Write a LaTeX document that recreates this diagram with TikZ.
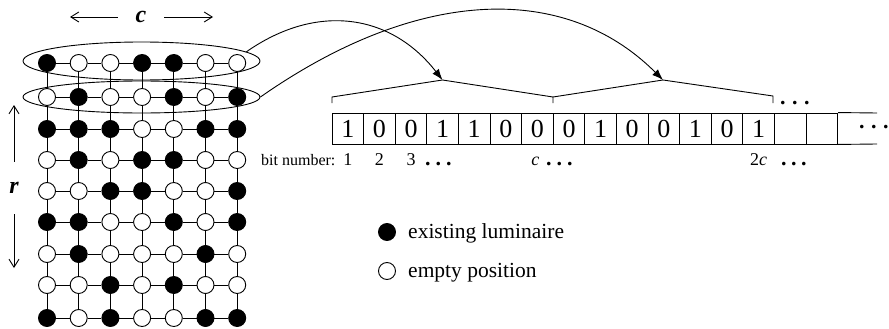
\documentclass[tikz,border=0pt]{standalone}
\usepackage{fontspec}
\setmainfont{Liberation Serif}
\usetikzlibrary{shapes.geometric,arrows.meta}
\newcommand\mydots[1]{.\kern#1.\kern#1.}
\begin{document}
\begin{tikzpicture}[x=1pt,y=-1pt,
  lw/.style={line width=0.9pt},
  cell1/.style={circle,draw,fill=black,minimum size=17pt,inner sep=0pt,line width=0.9pt},
  cell0/.style={circle,draw,fill=white,minimum size=17pt,inner sep=0pt,line width=0.9pt},
  ring/.style={ellipse,draw,inner sep=0pt,line width=0.9pt},
  bitcell/.style={draw,minimum width=31.6pt,minimum height=31pt,inner sep=0pt,line width=0.9pt,font=\fontsize{26}{26}\selectfont},
  numlab/.style={anchor=base,inner sep=0pt,font=\fontsize{18}{18}\selectfont},
  dotlab/.style={anchor=base west,inner sep=0pt,font=\fontsize{22}{22}\selectfont\bfseries},
  legtext/.style={anchor=base west,inner sep=0pt,font=\fontsize{21.5}{21.5}\selectfont},
  biglab/.style={font=\fontsize{24}{24}\selectfont\bfseries\itshape},
  dimarrow/.style={line width=0.9pt,-{Straight Barb[length=8pt,width=10pt]}},
  maparrow/.style={line width=0.9pt,-{Latex[length=11pt,width=8pt]}}
]
\useasboundingbox (0,0) rectangle (889,329);

% rings around the first two rows
\node[ring,minimum width=237pt,minimum height=38pt] (e1) at (141.5,61) {};
\node[ring,minimum width=237pt,minimum height=32pt] (e2) at (141.5,97) {};

% grid of positions
\foreach \row [count=\r] in {{1,0,0,1,1,0,0},{0,1,0,0,1,0,1},{1,1,1,0,0,1,1},{0,1,0,1,1,0,0},{0,0,1,1,0,0,1},{1,1,0,0,1,0,1},{0,1,0,0,0,1,0},{0,0,1,0,1,0,0},{1,0,1,0,0,1,1}} {
  \pgfmathsetmacro\yy{{63,97,129,160,191,222,254,285,318}[\r-1]}
  \foreach \v [count=\c] in \row {
    \node[cell\v] (g-\r-\c) at ({47+31.7*(\c-1)},\yy) {};
  }
}
\foreach \r in {1,...,9} {
  \foreach \c [count=\n from 2] in {1,...,6} {
    \draw[lw] (g-\r-\c) -- (g-\r-\n);
  }
}
\foreach \c in {1,...,7} {
  \foreach \r [count=\n from 2] in {1,...,8} {
    \draw[lw] (g-\r-\c) -- (g-\n-\c);
  }
}

% dimension labels
\node[biglab,inner xsep=17.5pt] (clab) at (141,17) {c};
\coordinate (cleft) at (70,17);
\coordinate (cright) at (213,17);
\draw[dimarrow] (clab.west) -- (cleft);
\draw[dimarrow] (clab.east) -- (cright);
\node[biglab,inner xsep=2pt,inner ysep=20.5pt] (rlab) at (14,188) {r};
\coordinate (rtop) at (14,105);
\coordinate (rbot) at (14,268);
\draw[dimarrow] (rlab.north) -- (rtop);
\draw[dimarrow] (rlab.south) -- (rbot);

% bit string
\foreach \d [count=\i] in {1,0,0,1,1,0,0,0,1,0,0,1,0,1} {
  \node[bitcell] (b\i) at ({332+31.6*(\i-0.5)},128.5) {\d};
}
\node[bitcell] (b15) at ({332+31.6*14.5},128.5) {};
\node[bitcell] (b16) at ({332+31.6*15.5},128.5) {};
\coordinate (tailt) at (877,113);
\coordinate (tailb) at (877,144);
\draw[lw] (b16.north east) -- (tailt);
\draw[lw] (b16.south east) -- (tailb);
\node[dotlab] (enddots) at (859,128.5) {\mydots{6.5pt}};

% brackets
\coordinate (k0) at (332,97);
\coordinate (k0b) at (332,103);
\coordinate (k1) at (553,97);
\coordinate (k1b) at (553,103);
\coordinate (k2) at (773,96);
\coordinate (k2b) at (773,103);
\coordinate (p1) at (442.5,80);
\coordinate (p2) at (663,80);
\draw[lw] (k0b) -- (k0) -- (p1) -- (k1) -- (k1b);
\draw[lw] (k1) -- (p2) -- (k2) -- (k2b);
\node[dotlab] (topdots) at (780,104) {\mydots{6.5pt}};

% mapping arrows
\draw[maparrow] (e1.5) .. controls +(-35:85) and +(-128:85) .. (p1);
\draw[maparrow] (e2.east) .. controls +(-35:190) and +(-135:140) .. (p2);

% bit numbers
\node[anchor=base west,inner sep=0pt,font=\fontsize{16}{16}\selectfont] (bn) at (261,165) {bit number:};
\node[numlab] (n1) at (b1 |- bn.base) {1};
\node[numlab] (n2) at (b2 |- bn.base) {2};
\node[numlab] (n3) at (b3 |- bn.base) {3};
\node[dotlab] (d3) at (425,165) {\mydots{5pt}};
\node[numlab] (nc) at ([xshift=-2pt]b7 |- bn.base) {\textit{c}};
\node[dotlab] (dc) at (546,165) {\mydots{5pt}};
\node[numlab] (n2c) at (b14 |- bn.base) {2\textit{c}};
\node[dotlab] (d2c) at (781,165) {\mydots{4.5pt}};

% legend
\node[cell1] (lg1) at (387,232) {};
\node[legtext] (lt1) at (408,238.5) {existing luminaire};
\node[cell0] (lg0) at (387,271) {};
\node[legtext] (lt0) at (408,277.5) {empty position};
\end{tikzpicture}
\end{document}
